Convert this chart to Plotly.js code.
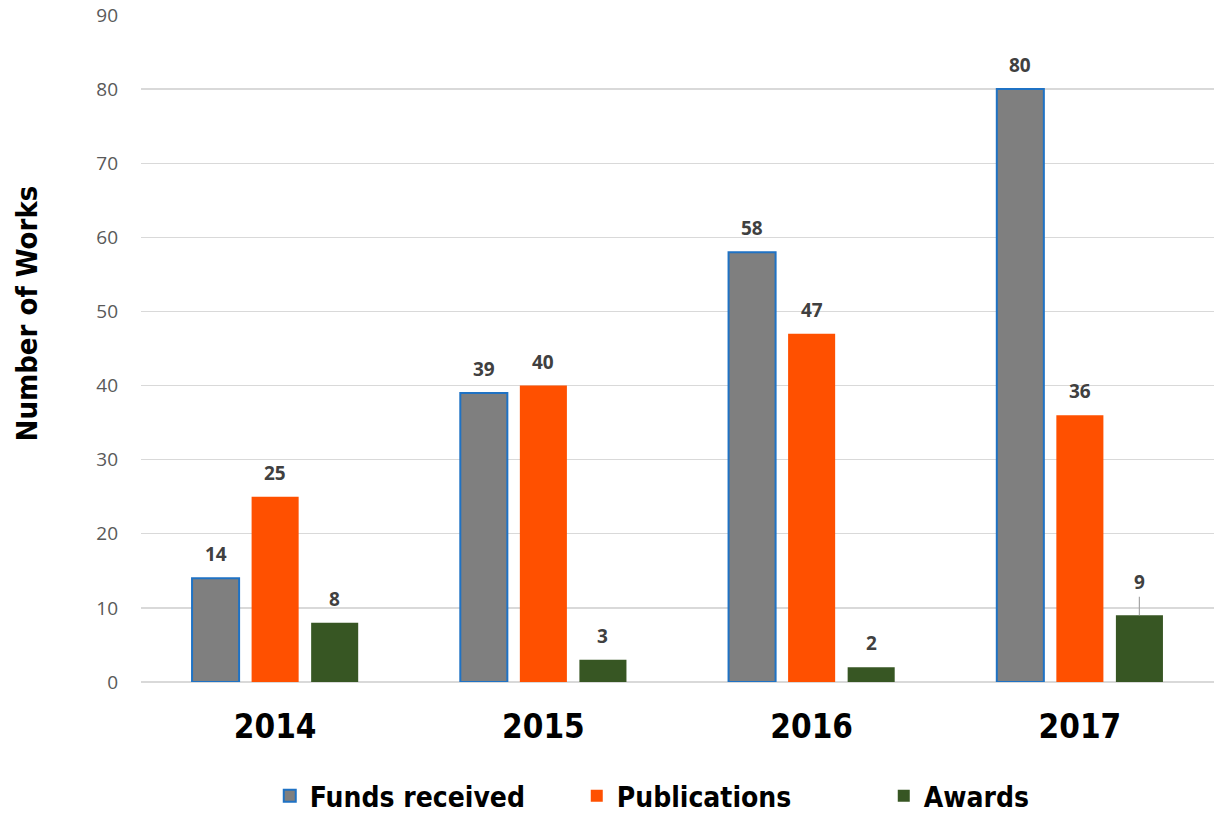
<!DOCTYPE html>
<html><head><meta charset="utf-8">
<script src="https://cdn.plot.ly/plotly-3.0.1.min.js"></script>
<style>html,body{margin:0;padding:0;background:#fff;}#chart{width:1219px;height:817px;}</style>
</head><body><div id="chart"></div>
<script>
const years = ['2014', '2015', '2016', '2017'];
const seriesNames = ['Funds received', 'Publications', 'Awards'];
const fundsReceived = [14, 39, 58, 80];
const publications = [25, 40, 47, 36];
const awards = [8, 3, 2, 9];
const yTicks = [0, 10, 20, 30, 40, 50, 60, 70, 80, 90];
const yTitle = 'Number of Works';

const condensed = 'DejaVu Sans Condensed, Liberation Sans Narrow, sans-serif';
const colors = ['#7f7f7f', '#ff5000', '#375623'];
const lineColors = ['#1f72c4', '#ff5000', '#375623'];
const lineWidths = [2, 0, 0];
const allValues = [fundsReceived, publications, awards];

const traces = allValues.map((vals, i) => ({
  type: 'bar', name: seriesNames[i], x: years, y: vals,
  marker: {color: colors[i], line: {color: lineColors[i], width: lineWidths[i]}},
  hoverinfo: 'skip'
}));

const slot = 59.5;
const annotations = [];
allValues.forEach((vals, i) => {
  vals.forEach((v, j) => {
    const lead = (i === 2 && j === 3);
    annotations.push({
      x: j, y: v, xref: 'x', yref: 'y',
      xshift: (i - 1) * slot,
      text: '<b>' + v + '</b>',
      font: {family: 'Open Sans, sans-serif', size: 19, color: '#404040'},
      showarrow: lead,
      arrowhead: 0, arrowcolor: '#a6a6a6', arrowwidth: 1.2,
      ax: 0, ay: lead ? -33 : 0, standoff: 0,
      yshift: lead ? 0 : 24
    });
  });
});
annotations.push({
  xref: 'paper', yref: 'paper', x: -0.106, y: 0.553, xanchor: 'center', yanchor: 'middle',
  text: yTitle, textangle: -90, showarrow: false,
  font: {family: condensed, size: 29, color: '#000', weight: 'bold'}
});

const layout = {
  width: 1219, height: 817,
  margin: {l: 141, r: 5, t: 15, b: 135, autoexpand: false},
  paper_bgcolor: '#fff', plot_bgcolor: '#fff',
  barmode: 'group', bargap: 0.334, bargroupgap: 0.21,
  showlegend: true,
  legend: {orientation: 'h', x: 0.12, xanchor: 'left', y: -0.171, yanchor: 'middle',
    font: {family: condensed, size: 28, color: '#000', weight: 'bold'},
    itemwidth: 30, tracegroupgap: 0, entrywidth: 262, entrywidthmode: 'pixels'},
  xaxis: {type: 'category', range: [-0.5, 3.5], showgrid: false, zeroline: false, showline: false,
    tickfont: {family: condensed, size: 33, color: '#000', weight: 'bold'}, ticks: '', ticklen: 0,
    ticklabelstandoff: 22},
  yaxis: {range: [0, 90], tickvals: yTicks, showgrid: true, gridcolor: '#d9d9d9', gridwidth: 1.3,
    zeroline: true, zerolinecolor: '#d9d9d9', zerolinewidth: 1.3, showline: false,
    tickfont: {family: 'Open Sans, sans-serif', size: 19, color: '#595959'}, ticklen: 0, ticks: '',
    ticklabelstandoff: 22},
  annotations: annotations,
  font: {family: 'Open Sans, sans-serif'}
};

Plotly.newPlot('chart', traces, layout, {displayModeBar: false, staticPlot: true});
</script></body></html>
